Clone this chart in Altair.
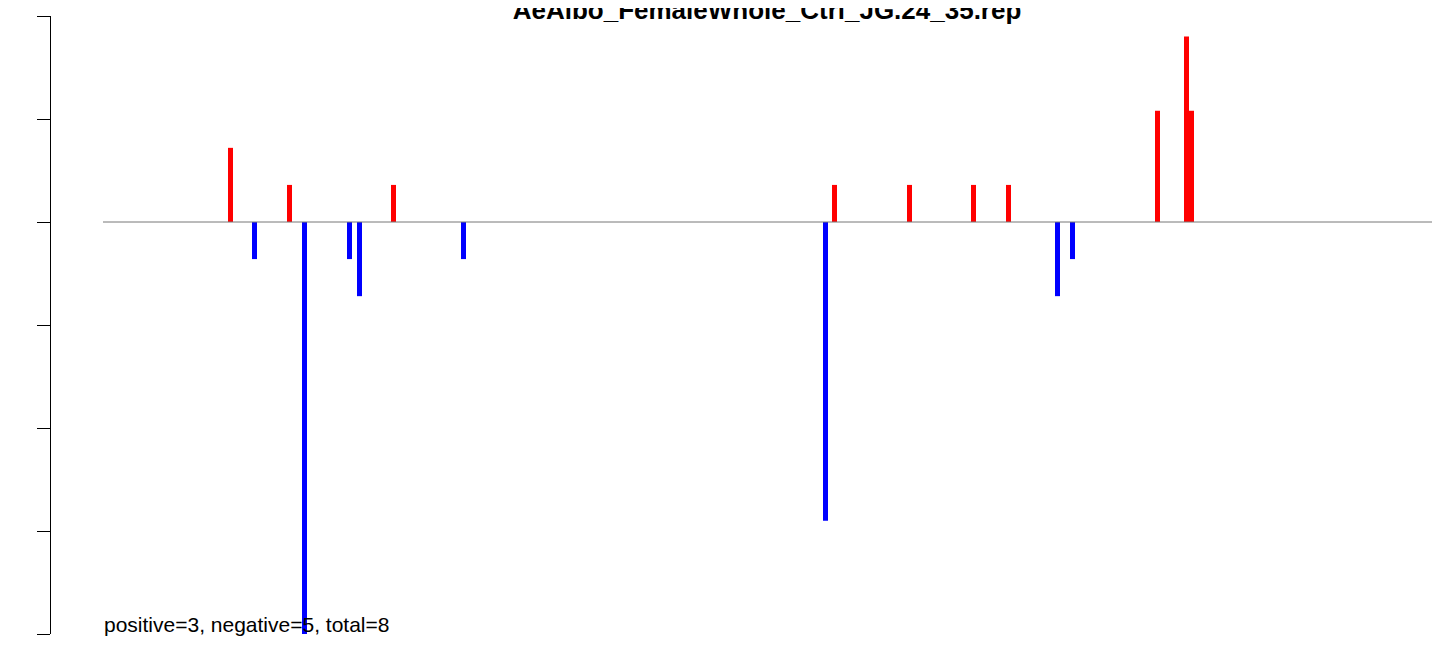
import altair as alt
import pandas as pd

# --- data ---
positions = [180.5, 204.5, 239.5, 254.5, 299.5, 309.5, 343.5, 413.5,
             775.5, 784.5, 859.5, 923.5, 958.5, 1007.5, 1022.5,
             1107.5, 1136.5, 1141.5]
values = [0.36, -0.18, 0.18, -2.0, -0.18, -0.36, 0.18, -0.18,
          -1.45, 0.18, 0.18, 0.18, 0.18, -0.36, -0.18,
          0.54, 0.90, 0.54]
x_domain = [0, 1386]
y_domain = [-2.0, 1.0]
line_range = [53, 1382]
y_ticks = [-2.0, -1.5, -1.0, -0.5, 0.0, 0.5, 1.0]
title_text = "AeAlbo_FemaleWhole_Ctrl_JG.24_35.rep"
summary_text = "positive=3, negative=5, total=8"
summary_pos = 54

df = pd.DataFrame({"pos": positions, "value": values})
df["sign"] = ["pos" if v > 0 else "neg" for v in df["value"]]
ticks_df = pd.DataFrame({"tick": y_ticks})

FONT = "Liberation Sans"
xscale = alt.Scale(domain=x_domain, nice=False, zero=False, padding=0)
yscale = alt.Scale(domain=y_domain, nice=False, zero=False, padding=0)

yaxis = alt.Axis(
    values=y_ticks, format=".1f", title=None, grid=False,
    ticks=True, tickSize=13, tickColor="#000000", tickWidth=1,
    domain=True, domainColor="#000000", domainWidth=1,
    labelAngle=270, labelAlign="center", labelBaseline="alphabetic",
    labelPadding=16, labelFontSize=17, labelFont=FONT, labelColor="#000000",
    labelOverlap=False, labelFlush=False,
)

bars = alt.Chart(df).mark_bar(size=5).encode(
    x=alt.X("pos:Q", scale=xscale, axis=None),
    y=alt.Y("value:Q", scale=yscale, axis=yaxis),
    y2=alt.datum(0),
    color=alt.Color("sign:N",
                    scale=alt.Scale(domain=["pos", "neg"], range=["#ff0000", "#0000ff"]),
                    legend=None),
)

zero_line = alt.Chart(pd.DataFrame({"a": [0]})).mark_rule(
    color="#777777", strokeWidth=1
).encode(
    x=alt.datum(line_range[0]),
    x2=alt.datum(line_range[1]),
    y=alt.datum(0),
)

# axis line and tick marks, drawn through the same y scale (backs up the axis)
axis_line = alt.Chart(pd.DataFrame({"a": [0]})).mark_rule(
    color="#000000", strokeWidth=1, xOffset=0.5
).encode(
    x=alt.datum(x_domain[0]),
    y=alt.datum(y_domain[0]),
    y2=alt.datum(y_domain[1]),
)

axis_ticks = alt.Chart(ticks_df).mark_rule(
    color="#000000", strokeWidth=1, yOffset=0.5
).encode(
    y=alt.Y("tick:Q", axis=None),
    x=alt.value(-13),
    x2=alt.value(0),
)

summary = alt.Chart(pd.DataFrame({"t": [summary_text]})).mark_text(
    align="left", baseline="alphabetic", fontSize=21, font=FONT, color="black", dy=-2
).encode(
    x=alt.datum(summary_pos),
    y=alt.datum(y_domain[0]),
    text="t:N",
)

title = alt.Chart(pd.DataFrame({"t": [title_text]})).mark_text(
    align="center", baseline="alphabetic", fontSize=26, fontWeight="bold",
    font=FONT, color="black"
).encode(
    x=alt.value(717),
    y=alt.value(3),
    text="t:N",
)

chart = alt.layer(bars, zero_line, axis_line, axis_ticks, summary, title).properties(
    width=1386,
    height=618,
    autosize=alt.AutoSizeParams(type="none"),
    padding={"left": 42, "top": 8, "right": 0, "bottom": 4},
).configure_view(stroke="transparent")

chart.save("out.html", embed_options={"renderer": "svg", "actions": False})
